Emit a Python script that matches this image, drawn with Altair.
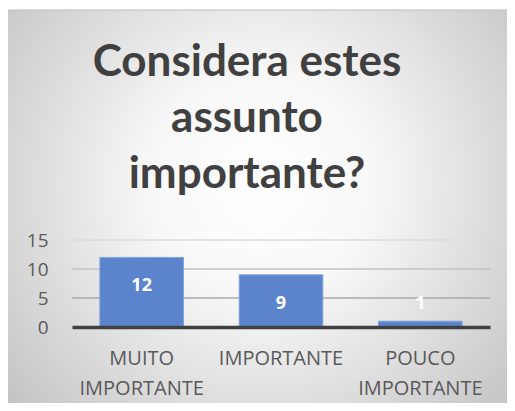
import altair as alt
import pandas as pd

categories = ["MUITO IMPORTANTE", "IMPORTANTE", "POUCO IMPORTANTE"]
values = [12, 9, 1]
grid_ticks = [5, 10, 15]
y_ticks = [0, 5, 10, 15]
title_lines = ["Considera estes", "assunto", "importante?"]

df = pd.DataFrame({"cat": categories, "value": values})
grid_df = pd.DataFrame({"tick": grid_ticks})

W, H = 418, 87

bg_gradient = {
    "gradient": "radial",
    "x1": 0.5, "y1": 0.45, "r1": 0,
    "x2": 0.5, "y2": 0.45, "r2": 0.72,
    "stops": [
        {"offset": 0, "color": "#ffffff"},
        {"offset": 0.3, "color": "#f8f8f8"},
        {"offset": 1, "color": "#bcbcbc"},
    ],
}

yscale = alt.Scale(domain=[0, 15], nice=False, zero=True)


def yaxis():
    return alt.Axis(
        title=None, values=y_ticks, tickCount=4, grid=False, ticks=False,
        domain=False, labelFont="Open Sans", labelFontSize=19,
        labelColor="#595959", labelPadding=24, zindex=2,
        labelOverlap=False, labelFlush=False, labelBound=False,
        labelSeparation=0,
    )


bg = alt.Chart(alt.Data(values=[{"a": 1}])).mark_rect(
    fill=bg_gradient, stroke="#bdbdbd", strokeWidth=1
).encode(
    x=alt.value(-65), x2=alt.value(445), y=alt.value(-230), y2=alt.value(170)
)

grid = alt.Chart(grid_df).mark_rule(strokeWidth=1.5).encode(
    y=alt.Y("tick:Q", scale=yscale, axis=yaxis()),
    x=alt.value(0), x2=alt.value(W),
    color=alt.Color(
        "tick:O",
        scale=alt.Scale(domain=grid_ticks, range=["#aaaaaa", "#c2c2c2", "#dcdcdc"]),
        legend=None,
    ),
)

xenc = alt.X(
    "cat:N", sort=categories,
    scale=alt.Scale(paddingInner=0.4, paddingOuter=0.2),
    axis=alt.Axis(
        title=None, labelAngle=0, ticks=False, domain=True,
        domainColor="#404040", domainWidth=3.5,
        labelFont="Open Sans", labelFontSize=20, labelColor="#595959",
        labelLineHeight=30, labelPadding=21, labelBaseline="top",
        labelExpr="split(datum.label, ' ')", zindex=1,
    ),
)

bars = alt.Chart(df).mark_bar(
    color="#5b84cd", stroke="#7ea3de", strokeWidth=1
).encode(
    x=xenc,
    y=alt.Y("value:Q", scale=yscale, axis=yaxis()),
)

labels = alt.Chart(df).transform_calculate(
    pos="max(datum.value, 9)"
).mark_text(
    color="white", font="Open Sans", fontWeight="bold", fontSize=18,
    baseline="middle", dy=29,
).encode(
    x=alt.X("cat:N", sort=categories),
    y=alt.Y("pos:Q", scale=yscale),
    text="value:Q",
)

chart = alt.layer(bg, grid, bars, labels).properties(
    width=W, height=H,
    padding={"left": 64, "top": 232, "right": 17, "bottom": 76},
    autosize=alt.AutoSizeParams(type="none"),
    background="white",
    title=alt.TitleParams(
        text=title_lines, font="Lato", fontSize=44, fontWeight="bold",
        color="#404040", lineHeight=56, anchor="middle", dx=-34, offset=0,
        baseline="bottom", dy=231,
    ),
).configure_view(stroke=None)

chart.save("out.html", embed_options={"renderer": "svg", "actions": False})
